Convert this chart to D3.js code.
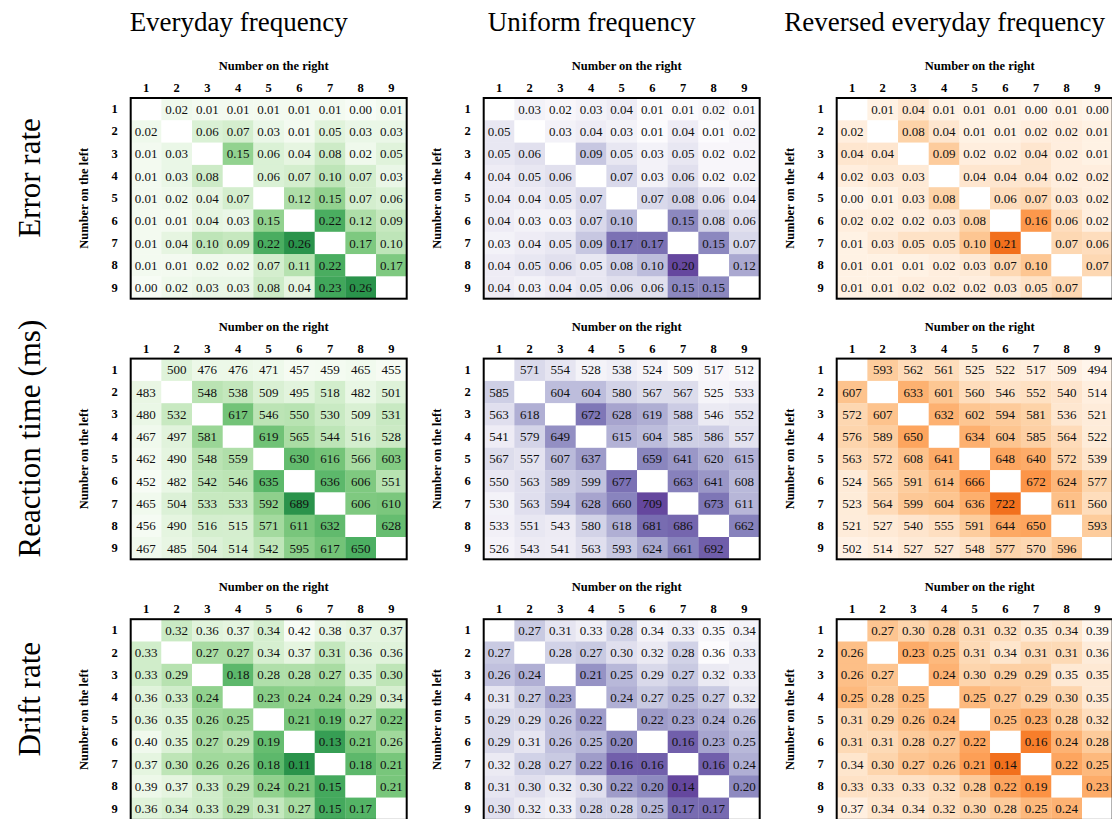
<!DOCTYPE html>
<html>
<head>
<meta charset="utf-8">
<script src="https://cdn.jsdelivr.net/npm/d3@7"></script>
<style>
  html, body { margin: 0; padding: 0; background: #fff; }
  svg { display: block; }
  text { font-family: "Liberation Serif", "Times New Roman", serif; }
</style>
</head>
<body>
<svg id="chart" width="1112" height="819"></svg>
<script>
// ---------------- data ----------------
const tickLabels = ["1","2","3","4","5","6","7","8","9"];
const columnTitles = ["Everyday frequency", "Uniform frequency", "Reversed everyday frequency"];
const rowTitles = ["Error rate", "Reaction time (ms)", "Drift rate"];
const axisTitleTop = "Number on the right";
const axisTitleLeft = "Number on the left";
const N = null;

const errorEveryday = [
  [N,0.02,0.01,0.01,0.01,0.01,0.01,0.00,0.01],
  [0.02,N,0.06,0.07,0.03,0.01,0.05,0.03,0.03],
  [0.01,0.03,N,0.15,0.06,0.04,0.08,0.02,0.05],
  [0.01,0.03,0.08,N,0.06,0.07,0.10,0.07,0.03],
  [0.01,0.02,0.04,0.07,N,0.12,0.15,0.07,0.06],
  [0.01,0.01,0.04,0.03,0.15,N,0.22,0.12,0.09],
  [0.01,0.04,0.10,0.09,0.22,0.26,N,0.17,0.10],
  [0.01,0.01,0.02,0.02,0.07,0.11,0.22,N,0.17],
  [0.00,0.02,0.03,0.03,0.08,0.04,0.23,0.26,N]
];
const errorUniform = [
  [N,0.03,0.02,0.03,0.04,0.01,0.01,0.02,0.01],
  [0.05,N,0.03,0.04,0.03,0.01,0.04,0.01,0.02],
  [0.05,0.06,N,0.09,0.05,0.03,0.05,0.02,0.02],
  [0.04,0.05,0.06,N,0.07,0.03,0.06,0.02,0.02],
  [0.04,0.04,0.05,0.07,N,0.07,0.08,0.06,0.04],
  [0.04,0.03,0.03,0.07,0.10,N,0.15,0.08,0.06],
  [0.03,0.04,0.05,0.09,0.17,0.17,N,0.15,0.07],
  [0.04,0.05,0.06,0.05,0.08,0.10,0.20,N,0.12],
  [0.04,0.03,0.04,0.05,0.06,0.06,0.15,0.15,N]
];
const errorReversed = [
  [N,0.01,0.04,0.01,0.01,0.01,0.00,0.01,0.00],
  [0.02,N,0.08,0.04,0.01,0.01,0.02,0.02,0.01],
  [0.04,0.04,N,0.09,0.02,0.02,0.04,0.02,0.01],
  [0.02,0.03,0.03,N,0.04,0.04,0.04,0.02,0.02],
  [0.00,0.01,0.03,0.08,N,0.06,0.07,0.03,0.02],
  [0.02,0.02,0.02,0.03,0.08,N,0.16,0.06,0.02],
  [0.01,0.03,0.05,0.05,0.10,0.21,N,0.07,0.06],
  [0.01,0.01,0.01,0.02,0.03,0.07,0.10,N,0.07],
  [0.01,0.01,0.02,0.02,0.02,0.03,0.05,0.07,N]
];
const rtEveryday = [
  [N,500,476,476,471,457,459,465,455],
  [483,N,548,538,509,495,518,482,501],
  [480,532,N,617,546,550,530,509,531],
  [467,497,581,N,619,565,544,516,528],
  [462,490,548,559,N,630,616,566,603],
  [452,482,542,546,635,N,636,606,551],
  [465,504,533,533,592,689,N,606,610],
  [456,490,516,515,571,611,632,N,628],
  [467,485,504,514,542,595,617,650,N]
];
const rtUniform = [
  [N,571,554,528,538,524,509,517,512],
  [585,N,604,604,580,567,567,525,533],
  [563,618,N,672,628,619,588,546,552],
  [541,579,649,N,615,604,585,586,557],
  [567,557,607,637,N,659,641,620,615],
  [550,563,589,599,677,N,663,641,608],
  [530,563,594,628,660,709,N,673,611],
  [533,551,543,580,618,681,686,N,662],
  [526,543,541,563,593,624,661,692,N]
];
const rtReversed = [
  [N,593,562,561,525,522,517,509,494],
  [607,N,633,601,560,546,552,540,514],
  [572,607,N,632,602,594,581,536,521],
  [576,589,650,N,634,604,585,564,522],
  [563,572,608,641,N,648,640,572,539],
  [524,565,591,614,666,N,672,624,577],
  [523,564,599,604,636,722,N,611,560],
  [521,527,540,555,591,644,650,N,593],
  [502,514,527,527,548,577,570,596,N]
];
const driftEveryday = [
  [N,0.32,0.36,0.37,0.34,0.42,0.38,0.37,0.37],
  [0.33,N,0.27,0.27,0.34,0.37,0.31,0.36,0.36],
  [0.33,0.29,N,0.18,0.28,0.28,0.27,0.35,0.30],
  [0.36,0.33,0.24,N,0.23,0.24,0.24,0.29,0.34],
  [0.36,0.35,0.26,0.25,N,0.21,0.19,0.27,0.22],
  [0.40,0.35,0.27,0.29,0.19,N,0.13,0.21,0.26],
  [0.37,0.30,0.26,0.26,0.18,0.11,N,0.18,0.21],
  [0.39,0.37,0.33,0.29,0.24,0.21,0.15,N,0.21],
  [0.36,0.34,0.33,0.29,0.31,0.27,0.15,0.17,N]
];
const driftUniform = [
  [N,0.27,0.31,0.33,0.28,0.34,0.33,0.35,0.34],
  [0.27,N,0.28,0.27,0.30,0.32,0.28,0.36,0.33],
  [0.26,0.24,N,0.21,0.25,0.29,0.27,0.32,0.33],
  [0.31,0.27,0.23,N,0.24,0.27,0.25,0.27,0.32],
  [0.29,0.29,0.26,0.22,N,0.22,0.23,0.24,0.26],
  [0.29,0.31,0.26,0.25,0.20,N,0.16,0.23,0.25],
  [0.32,0.28,0.27,0.22,0.16,0.16,N,0.16,0.24],
  [0.31,0.30,0.32,0.30,0.22,0.20,0.14,N,0.20],
  [0.30,0.32,0.33,0.28,0.28,0.25,0.17,0.17,N]
];
const driftReversed = [
  [N,0.27,0.30,0.28,0.31,0.32,0.35,0.34,0.39],
  [0.26,N,0.23,0.25,0.31,0.34,0.31,0.31,0.36],
  [0.26,0.27,N,0.24,0.30,0.29,0.29,0.35,0.35],
  [0.25,0.28,0.25,N,0.25,0.27,0.29,0.30,0.35],
  [0.31,0.29,0.26,0.24,N,0.25,0.23,0.28,0.32],
  [0.31,0.31,0.28,0.27,0.22,N,0.16,0.24,0.28],
  [0.34,0.30,0.27,0.26,0.21,0.14,N,0.22,0.25],
  [0.33,0.33,0.33,0.32,0.28,0.22,0.19,N,0.23],
  [0.37,0.34,0.34,0.32,0.30,0.28,0.25,0.24,N]
];

// ---------------- layout ----------------
const panels = [
  [errorEveryday, errorUniform, errorReversed],
  [rtEveryday, rtUniform, rtReversed],
  [driftEveryday, driftUniform, driftReversed]
];
const interps = [d3.interpolateGreens, d3.interpolatePurples, d3.interpolateOranges];
const tMax = [0.72, 0.78, 0.6];
const formats = [d3.format(".2f"), d3.format("d"), d3.format(".2f")];
const reversedRow = [false, false, true];

const frameW = 276, frameH = 200.7;
const panelX0 = 130.7, panelDX = 353;
const panelY0 = 98, panelDY = 260.6;

const svg = d3.select("#chart");

// column titles
columnTitles.forEach((t, j) => {
  svg.append("text")
    .attr("x", panelX0 + j * panelDX + 108)
    .attr("y", 31)
    .attr("text-anchor", "middle")
    .attr("font-size", 27)
    .attr("fill", "#000")
    .text(t);
});

// row titles
rowTitles.forEach((t, i) => {
  const cy = panelY0 + i * panelDY + 80;
  svg.append("text")
    .attr("transform", `translate(40,${cy}) rotate(-90)`)
    .attr("text-anchor", "middle")
    .attr("font-size", 31)
    .attr("fill", "#000")
    .text(t);
});

panels.forEach((row, i) => {
  row.forEach((mat, j) => {
    const gx = panelX0 + j * panelDX;
    const gy = panelY0 + i * panelDY;
    const g = svg.append("g").attr("transform", `translate(${gx},${gy})`);

    const x = d3.scaleBand().domain(tickLabels).range([0, frameW]);
    const y = d3.scaleBand().domain(tickLabels).range([0, frameH]);

    const cells = [];
    mat.forEach((r, ri) => r.forEach((v, ci) => {
      cells.push({ row: tickLabels[ri], col: tickLabels[ci], v });
    }));
    const vals = cells.filter(d => d.v !== null).map(d => d.v);
    const ext = d3.extent(vals);
    const interp = interps[j];
    const tm = tMax[j];
    const color = d3.scaleSequential(t => interp(t * tm))
      .domain(reversedRow[i] ? [ext[1], ext[0]] : ext);

    g.selectAll("rect.cell")
      .data(cells)
      .join("rect")
      .attr("class", "cell")
      .attr("x", d => x(d.col))
      .attr("y", d => y(d.row))
      .attr("width", x.bandwidth() + 0.3)
      .attr("height", y.bandwidth() + 0.3)
      .attr("fill", d => d.v === null ? "#ffffff" : color(d.v));

    g.selectAll("text.val")
      .data(cells.filter(d => d.v !== null))
      .join("text")
      .attr("class", "val")
      .attr("x", d => x(d.col) + x.bandwidth() / 2)
      .attr("y", d => y(d.row) + y.bandwidth() / 2)
      .attr("dy", "0.35em")
      .attr("text-anchor", "middle")
      .attr("font-size", 13)
      .attr("fill", "#111")
      .text(d => formats[i](d.v));

    // frame
    g.append("rect")
      .attr("x", 0).attr("y", 0)
      .attr("width", frameW).attr("height", frameH)
      .attr("fill", "none")
      .attr("stroke", "#000")
      .attr("stroke-width", 2);

    const topAxis = d3.axisTop(x).tickSize(0).tickPadding(6);
    const ta = g.append("g").call(topAxis);
    ta.select(".domain").remove();
    ta.selectAll("text")
      .attr("font-family", "Liberation Serif, serif")
      .attr("font-weight", "bold")
      .attr("font-size", 12.5)
      .attr("fill", "#000");

    const leftAxis = d3.axisLeft(y).tickSize(0).tickPadding(13);
    const la = g.append("g").call(leftAxis);
    la.select(".domain").remove();
    la.selectAll("text")
      .attr("font-family", "Liberation Serif, serif")
      .attr("font-weight", "bold")
      .attr("font-size", 12.5)
      .attr("fill", "#000");

    g.append("text")
      .attr("x", frameW / 2 + 5)
      .attr("y", -28)
      .attr("text-anchor", "middle")
      .attr("font-weight", "bold")
      .attr("font-size", 12.5)
      .attr("fill", "#000")
      .text(axisTitleTop);

    g.append("text")
      .attr("transform", `translate(-43,${frameH / 2}) rotate(-90)`)
      .attr("text-anchor", "middle")
      .attr("font-weight", "bold")
      .attr("font-size", 12.5)
      .attr("fill", "#000")
      .text(axisTitleLeft);
  });
});
</script>
</body>
</html>
